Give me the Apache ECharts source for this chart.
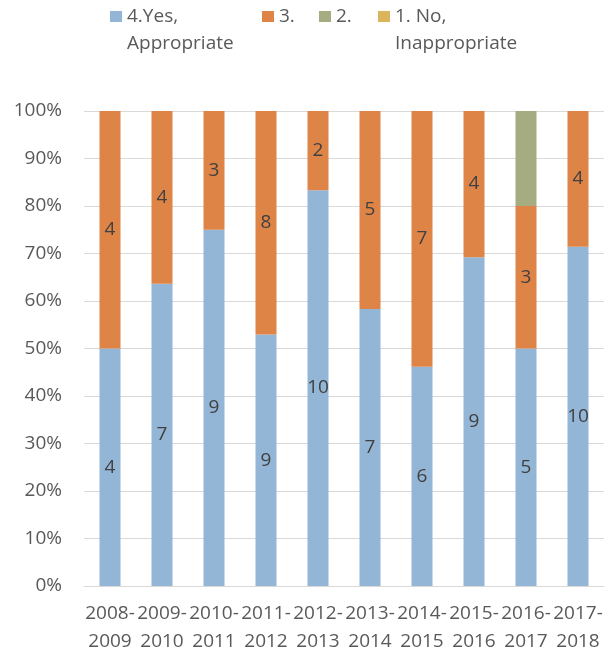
<!DOCTYPE html>
<html>
<head>
<meta charset="utf-8">
<script src="https://cdn.jsdelivr.net/npm/echarts@6/dist/echarts.min.js"></script>
<style>html,body{margin:0;padding:0;background:#fff;}#c{width:611px;height:656px;}</style>
</head>
<body>
<div id="c"></div>
<script>
const categories = ['2008-\n2009','2009-\n2010','2010-\n2011','2011-\n2012','2012-\n2013','2013-\n2014','2014-\n2015','2015-\n2016','2016-\n2017','2017-\n2018'];
const seriesNames = ['4.Yes, Appropriate','3.','2.','1. No, Inappropriate'];
const legendLabels = ['4.Yes,\nAppropriate','3.','2.','1. No,\nInappropriate'];
const yesCounts = [4,7,9,9,10,7,6,9,5,10];
const threeCounts = [4,4,3,8,2,5,7,4,3,4];
const twoCounts = [0,0,0,0,0,0,0,0,2,0];
const noCounts = [0,0,0,0,0,0,0,0,0,0];
const yTicks = [0,10,20,30,40,50,60,70,80,90,100];
const colors = ['#94b6d6','#df8447','#a6ac82','#dcb45c'];

const all = [yesCounts, threeCounts, twoCounts, noCounts];
const totals = categories.map((_, i) => all.reduce((s, a) => s + a[i], 0));
const font = 'Open Sans';
const txt = '#595959';

const series = all.map((counts, k) => ({
  name: seriesNames[k],
  type: 'bar',
  stack: 'total',
  barWidth: 21,
  itemStyle: { color: colors[k] },
  data: counts.map((c, i) => ({ value: c / totals[i] * 100, count: c })),
  label: {
    show: k < 2,
    position: 'inside',
    color: '#404040',
    fontFamily: font,
    fontSize: 19,
    formatter: p => p.data.count ? String(p.data.count) : ''
  },
  emphasis: { disabled: true }
}));

const legendX = [110, 262, 319, 378];
const legends = seriesNames.map((n, k) => {
  const multi = legendLabels[k].indexOf('\n') >= 0;
  return {
    data: [n],
    left: legendX[k],
    top: multi ? -24 : 3,
    padding: 0,
    itemWidth: 12,
    itemHeight: 11,
    icon: 'rect',
    formatter: () => (multi ? '\n' : '') + legendLabels[k],
    selectedMode: false,
    textStyle: { fontFamily: font, fontSize: 19, color: txt, lineHeight: 27 }
  };
});

const chart = echarts.init(document.getElementById('c'));
chart.setOption({
  animation: false,
  color: colors,
  legend: legends,
  grid: { left: 84, right: 7, top: 111, bottom: 70, containLabel: false },
  xAxis: {
    type: 'category',
    data: categories,
    axisTick: { show: false },
    axisLine: { lineStyle: { color: '#d9d9d9', width: 1 } },
    axisLabel: { interval: 0, color: txt, fontFamily: font, fontSize: 19, lineHeight: 28, margin: 14 }
  },
  yAxis: {
    type: 'value',
    min: yTicks[0],
    max: yTicks[yTicks.length - 1],
    interval: 10,
    axisLine: { show: false },
    axisTick: { show: false },
    splitLine: { lineStyle: { color: '#d9d9d9', width: 1 } },
    axisLabel: { color: txt, fontFamily: font, fontSize: 19, margin: 22, formatter: '{value}%' }
  },
  series: series
});
</script>
</body>
</html>
